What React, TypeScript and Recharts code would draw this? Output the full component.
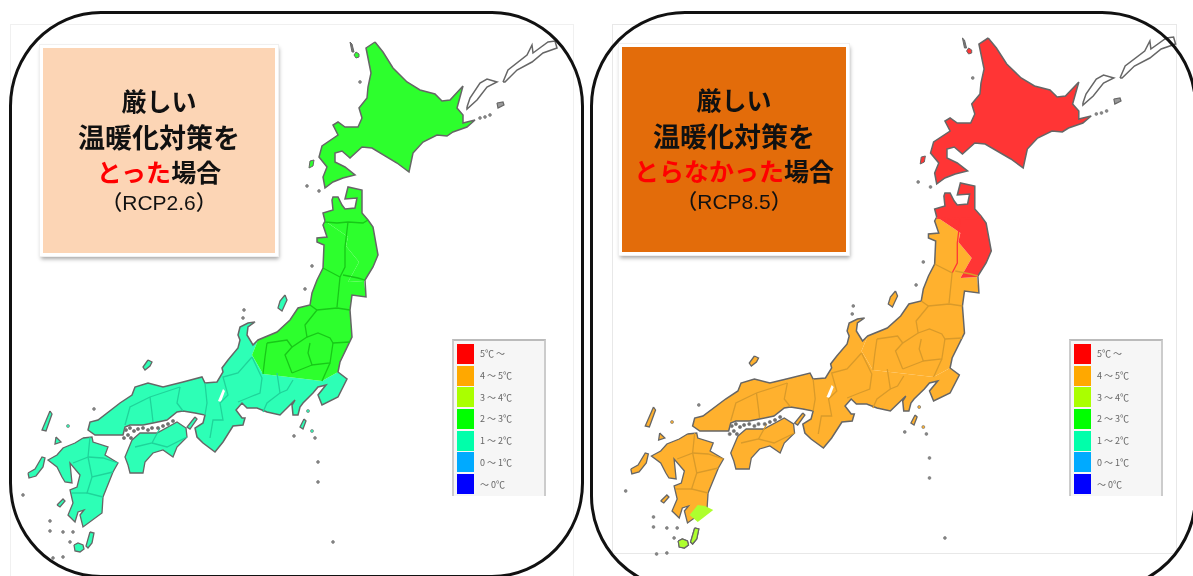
import React from 'react';
import { ScatterChart, Scatter, XAxis, YAxis } from 'recharts';

type P = [number, number];

// map outlines, in map units
const coastNorth: P[] = [[325,221],[323,213],[333,210],[332,200],[333,197],[338,197],[342,205],[345,209],[355,208],[357,198],[345,199],[348,187],[362,190],[362,213],[368,220],[373,227],[378,255],[373,267],[365,280]];
const coastEast: P[] = [[366,297],[352,295],[350,310],[352,337],[340,362],[338,372]];
const coastSouth: P[] = [[347,379],[338,397],[322,405],[318,395],[326,385],[318,387],[313,393],[303,403],[300,407],[298,415],[293,415],[292,405],[295,400],[280,415],[267,412],[257,408],[247,408],[242,403],[236,410],[242,418],[245,418],[243,425],[233,426],[223,442],[215,452],[203,443],[197,437],[195,428],[203,423],[205,415],[195,413],[183,411],[177,412],[167,420],[153,423],[143,425],[130,425],[125,427],[123,435],[95,435],[88,430],[90,422],[98,420],[120,403],[132,395],[135,387],[148,383],[163,387],[183,382],[202,377],[205,383],[217,382],[223,372],[222,368],[228,360],[238,348],[240,340],[238,335],[240,327],[248,323],[255,322],[248,327],[247,335],[253,345],[258,340]];
const coastWest: P[] = [[277,332],[290,320],[298,308],[310,305],[312,293],[317,280],[323,268],[324,245],[317,242],[317,238],[327,237],[323,225]];
const northSplit: P[] = [[325,221],[341,232],[348,237],[346,246],[359,262],[348,282],[364,281]];
const centralSplit: P[] = [[258,340],[252,355],[263,374],[322,381],[338,372]];

const hokkaido: P[] = [[375,42],[383,52],[393,68],[407,82],[420,90],[435,94],[442,101],[450,100],[463,86],[460,97],[457,108],[463,115],[463,123],[475,120],[467,127],[453,132],[447,136],[437,135],[423,142],[413,153],[409,172],[397,163],[372,148],[362,147],[350,158],[342,151],[335,153],[335,162],[345,167],[355,175],[343,178],[333,182],[325,188],[323,177],[327,167],[319,157],[322,146],[338,135],[333,125],[338,122],[345,127],[358,127],[362,118],[359,108],[367,98],[368,87],[371,73],[366,48]];
const shikoku: P[] = [[132,440],[140,433],[157,433],[177,422],[186,428],[187,437],[177,447],[173,457],[163,450],[153,453],[145,462],[143,473],[130,473],[128,465],[125,457]];
const kyushu: P[] = [[83,438],[92,437],[93,442],[108,447],[105,455],[118,463],[113,472],[103,497],[102,513],[83,527],[80,515],[84,510],[78,512],[75,522],[68,515],[73,503],[70,490],[77,487],[80,475],[70,463],[72,483],[65,482],[62,477],[57,467],[48,460],[57,455],[63,448],[75,443]];
const kagoshima: P[] = [[85,519],[93,509],[100,510],[108,514],[93,526]];
const awaji: P[] = [[195,417],[197,419],[190,429],[187,427]];
const sado: P[] = [[285,295],[287,300],[282,311],[278,308],[280,301]];
const tsushima: P[] = [[50,411],[52,414],[46,431],[42,430]];
const goto: P[] = [[28,473],[35,469],[42,457],[45,458],[43,467],[36,476],[29,478]];
const iki: P[] = [[56,437],[61,442],[55,444]];
const koshiki: P[] = [[57,505],[63,499],[65,501],[60,507]];
const yakushima: P[] = [[74,545],[78,543],[83,545],[84,549],[80,552],[75,551]];
const tanegashima: P[] = [[90,532],[94,533],[92,543],[88,548],[86,546]];
const oki: P[] = [[148,360],[152,362],[150,366],[145,370],[143,367]];
const izuA: P[] = [[304,419],[306,421],[303,429],[300,427]];
const rebun: P[] = [[350,42],[352,44],[354,52],[352,52]];
const rishiri: P[] = [[356,52],[359,54],[359,57],[356,58],[354,55]];
const okushiri: P[] = [[310,161],[314,160],[313,166],[309,168]];
const kunashiri: P[] = [[467,107],[470,98],[480,83],[487,79],[497,82],[487,87],[477,100],[467,109]];
const etorofu: P[] = [[503,82],[508,70],[527,55],[532,45],[533,53],[548,42],[555,41],[557,48],[543,53],[532,62],[517,70],[505,82]];
const shikotan: P[] = [[497,103],[503,102],[504,105],[498,108]];
const biwa: P[] = [[223,389],[225,391],[221,402],[218,401]];

const fillIslands = [shikoku, kyushu, awaji, tsushima, goto, iki, koshiki, yakushima, tanegashima, oki, izuA, sado];
const grayDots: P[] = [[360,82],[307,186],[319,191],[312,266],[305,289],[244,310],[243,318],[294,436],[318,482],[333,542],[94,409],[23,495],[50,521],[50,531],[63,532],[70,542],[73,532],[53,558],[63,557],[318,462],[315,438],[480,118],[485,117],[490,115]];
const seaIslands: P[] = [[126,430],[130,428],[134,431],[128,435],[138,429],[143,428],[148,430],[152,428],[158,428],[163,426],[168,424],[173,421],[131,438],[124,438]];
const colorDots: P[] = [[68,426],[308,411],[312,431]];

// prefecture borders
const bordersNorth: P[][] = [
  [[325,222],[337,223],[348,222],[363,223],[368,220]],
  [[348,222],[345,247],[345,267],[340,277]],
];
const bordersEast: P[][] = [
  [[323,268],[340,277],[337,307]],
  [[343,275],[358,278],[365,280]],
  [[310,305],[317,310],[337,308],[350,310]],
  [[317,310],[305,325],[307,337],[318,333],[330,338],[333,343],[350,342]],
  [[267,343],[287,340],[292,347],[307,337]],
  [[267,343],[265,357],[263,374]],
  [[292,347],[285,355],[292,373]],
  [[310,343],[308,353],[312,365],[330,363],[333,343]],
  [[292,373],[312,365]],
  [[330,363],[322,381]],
];
const bordersCentral: P[][] = [
  [[277,373],[280,393],[267,403],[263,412]],
  [[252,357],[262,378],[260,393],[250,397],[238,402]],
  [[252,357],[238,373],[223,377],[228,395],[220,403],[223,420],[213,420],[210,438]],
  [[205,383],[207,403],[205,415]],
  [[180,387],[177,403],[183,411]],
  [[150,397],[152,413],[153,422]],
  [[180,387],[150,397],[130,407],[125,425]],
  [[293,380],[287,390],[280,393]],
  [[135,447],[152,443],[160,428]],
  [[152,443],[167,447],[187,437]],
  [[90,437],[88,457],[73,463]],
  [[88,457],[103,458],[118,463]],
  [[88,457],[92,477],[113,472]],
  [[92,477],[87,493],[103,497]],
  [[87,493],[72,493]],
];

const legendLabels = ['5℃ ～', '4 ～ 5℃', '3 ～ 4℃', '2 ～ 3℃', '1 ～ 2℃', '0 ～ 1℃', '～ 0℃'];
const legendColors = ['#ff0000', '#ffa800', '#aaff00', '#00ff00', '#00ffaa', '#00aaff', '#0000ff'];

const toPoints = (pts: P[], close = true) => {
  const out = pts.map(([x, y]) => ({ x, y }));
  if (close) out.push({ x: pts[0][0], y: pts[0][1] });
  return out;
};
const noMark = () => null;

function shape(pts: P[], key: string, fill: string, stroke: string, sw: number, close = true) {
  return (
    <Scatter
      key={key}
      data={toPoints(pts, close)}
      line={{ fill, stroke, strokeWidth: sw }}
      shape={noMark}
      isAnimationActive={false}
    />
  );
}

function dots(pts: P[], key: string, fill: string, r: number) {
  return (
    <Scatter
      key={key}
      data={toPoints(pts, false)}
      fill={fill}
      shape={(p: any) => <circle cx={p.cx} cy={p.cy} r={r} fill={fill} stroke="#777" strokeWidth={0.7} />}
      isAnimationActive={false}
    />
  );
}

const COAST = '#666666';

interface MapProps {
  left: number;
  top: number;
  width: number;
  north: string;
  east: string;
  central: string;
  northLine: string;
  eastLine: string;
  centralLine: string;
  tip?: string;
}

function JapanMap({ left, top, width, north, east, central, northLine, eastLine, centralLine, tip }: MapProps) {
  const northFill = [...coastNorth, ...[...northSplit].reverse()];
  const eastFill = [...northSplit, ...coastEast, ...[...centralSplit].reverse(), ...coastWest];
  const centralFill = [...coastSouth, ...centralSplit];
  const honshuCoast = [...coastNorth, ...coastEast, ...coastSouth, ...coastWest];
  return (
    <div style={{ position: 'absolute', left, top, filter: 'blur(0.6px)' }}>
      <ScatterChart width={width} height={576} margin={{ top: 0, right: 0, bottom: 0, left: 0 }}>
        <XAxis type="number" dataKey="x" domain={[0, 570]} hide />
        <YAxis type="number" dataKey="y" domain={[0, 576]} reversed hide />
        {shape(kunashiri, 'kunashiri', '#ffffff', COAST, 1.5)}
        {shape(etorofu, 'etorofu', '#ffffff', COAST, 1.5)}
        {shape(shikotan, 'shikotan', '#999999', COAST, 1.2)}
        {shape(hokkaido, 'hokkaido', north, COAST, 1.5)}
        {shape(rebun, 'rebun', '#777777', COAST, 1)}
        {shape(rishiri, 'rishiri', north, COAST, 1)}
        {shape(okushiri, 'okushiri', north, COAST, 1)}
        {shape(centralFill, 'central', central, 'none', 0)}
        {shape(eastFill, 'east', east, 'none', 0)}
        {shape(northFill, 'north', north, 'none', 0)}
        {fillIslands.map((isl, i) => shape(isl, `isl${i}`, central, COAST, 1.3))}
        {tip && shape(kagoshima, 'tip', tip, 'none', 0)}
        {tip && shape(yakushima, 'yaku', tip, COAST, 1.2)}
        {tip && shape(tanegashima, 'tane', tip, COAST, 1.2)}
        {shape(honshuCoast, 'coast', 'none', COAST, 1.5)}
        {shape(biwa, 'biwa', '#ffffff', 'none', 0)}
        {bordersNorth.map((b, i) => shape(b, `bn${i}`, 'none', northLine, 1.3, false))}
        {bordersEast.map((b, i) => shape(b, `be${i}`, 'none', eastLine, 1.3, false))}
        {bordersCentral.map((b, i) => shape(b, `bc${i}`, 'none', centralLine, 1.3, false))}
        {dots(grayDots, 'gray', '#888888', 1.4)}
        {dots(seaIslands, 'sea', '#6f6f6f', 1.6)}
        {dots(colorDots, 'color', central, 1.5)}
      </ScatterChart>
    </div>
  );
}

function ScaleBox({ left }: { left: number }) {
  return (
    <div
      style={{
        position: 'absolute', left, top: 339, width: 94, height: 157, background: '#f6f6f6',
        borderTop: '2px solid #bbb', borderLeft: '2px solid #ccc', borderRight: '2px solid #ccc',
        boxSizing: 'border-box', filter: 'blur(0.5px)',
      }}
    >
      {legendLabels.map((label, i) => (
        <div key={label} style={{ position: 'absolute', left: 3, top: 2 + i * 21.7, height: 21.7, display: 'flex', alignItems: 'center' }}>
          <span style={{ width: 17, height: 20, background: legendColors[i], display: 'block' }} />
          <span style={{ marginLeft: 6, fontSize: 9, color: '#666', fontFamily: '"Noto Sans CJK JP"' }}>{label}</span>
        </div>
      ))}
    </div>
  );
}

function TitleBox({ left, top, width, height, background, accent, rest, rcp }: any) {
  const line = { whiteSpace: 'nowrap' } as const;
  return (
    <div
      style={{
        position: 'absolute', left, top, width, height, background, border: '3px solid #fff',
        outline: '1px solid #f0f0f0', boxShadow: '1px 3px 4px rgba(0,0,0,0.35)', boxSizing: 'content-box',
        fontFamily: '"Noto Sans CJK JP"', fontWeight: 700, fontSize: 26,
        color: '#111', textAlign: 'center', filter: 'blur(0.3px)',
      }}
    >
      <div style={{ ...line, marginTop: 33, lineHeight: '38px', fontSize: 25 }}>厳しい</div>
      <div style={{ ...line, lineHeight: '36px', fontSize: 27 }}>温暖化対策を</div>
      <div style={{ ...line, lineHeight: '32px', fontSize: 25 }}>
        <span style={{ color: '#ff0000' }}>{accent}</span>{rest}
      </div>
      <div style={{ ...line, lineHeight: '32px', fontSize: 21, fontWeight: 500, fontFamily: '"Liberation Sans", "Noto Sans CJK JP"' }}>{rcp}</div>
    </div>
  );
}

export default function App() {
  return (
    <div style={{ position: 'absolute', left: 0, top: 0, width: 1193, height: 576, overflow: 'hidden', background: '#fff' }}>
      {/* faint edges of the pasted images */}
      <div style={{ position: 'absolute', left: 10, top: 24, width: 562, height: 600, border: '1px solid #f0f0f0' }} />
      <div style={{ position: 'absolute', left: 612, top: 24, width: 563, height: 528, border: '1px solid #e8e8e8' }} />

      <JapanMap left={0} top={0} width={570} north="#2dff2d" east="#2dff2d" central="#2dffb6" northLine="#18c818" eastLine="#18c818" centralLine="#1fd49a" />
      <JapanMap left={602} top={-4} width={587} north="#ff3535" east="#ffb12e" central="#ffb12e" northLine="#ff3535" eastLine="#d99a2a" centralLine="#d99a2a" tip="#aeff2e" />

      <ScaleBox left={452} />
      <ScaleBox left={1069} />

      <TitleBox left={40} top={45} width={232} height={205} background="#fcd5b5" accent="とった" rest="場合" rcp="（RCP2.6）" />
      <TitleBox left={619} top={44} width={224} height={205} background="#e36c0a" accent="とらなかった" rest="場合" rcp="（RCP8.5）" />

      {/* rounded frames */}
      <div style={{ position: 'absolute', left: 9, top: 11, width: 575, height: 567, border: '3px solid #111', borderRadius: '92px / 95px', boxSizing: 'border-box' }} />
      <div style={{ position: 'absolute', left: 590, top: 11, width: 607, height: 580, border: '3px solid #111', borderRadius: 95, boxSizing: 'border-box' }} />
    </div>
  );
}
